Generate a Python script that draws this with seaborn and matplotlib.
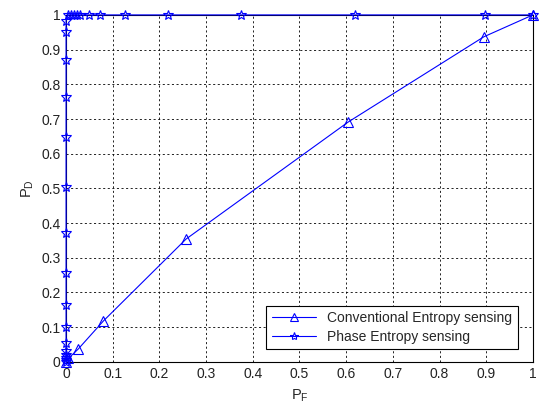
import numpy as np
import pandas as pd
import seaborn as sns
import matplotlib.pyplot as plt

# Conventional entropy sensing (ROC)
conv_pf = [0.0, 0.005, 0.026, 0.08, 0.257, 0.604, 0.895, 1.0]
conv_pd = [0.0, 0.01, 0.037, 0.118, 0.354, 0.691, 0.937, 1.0]

# Phase entropy sensing (ROC)
phase_pf = [0.0, 0.0, 0.0, 0.0, 0.0, 0.0, 0.0, 0.0, 0.0, 0.0, 0.0, 0.0, 0.0, 0.0, 0.0, 0.0,
            0.004, 0.01, 0.017, 0.024, 0.03, 0.05, 0.073, 0.126, 0.218, 0.375, 0.619, 0.897, 1.0]
phase_pd = [0.0, 0.005, 0.01, 0.02, 0.03, 0.055, 0.1, 0.164, 0.256, 0.372, 0.504, 0.648, 0.764, 0.87, 0.95, 0.983,
            1.0, 1.0, 1.0, 1.0, 1.0, 1.0, 1.0, 1.0, 1.0, 1.0, 1.0, 1.0, 1.0]

ticks = np.round(np.arange(0, 1.01, 0.1), 1)
tick_labels = ['0', '0.1', '0.2', '0.3', '0.4', '0.5', '0.6', '0.7', '0.8', '0.9', '1']

sns.set_style("white")
plt.rcParams['font.family'] = ['Liberation Sans', 'DejaVu Sans']

fig = plt.figure(figsize=(5.46, 4.03), dpi=100)
ax = fig.add_axes([0.121, 0.102, 0.855, 0.861])

sns.lineplot(x=conv_pf, y=conv_pd, sort=False, estimator=None, ax=ax, color='blue',
             marker='^', markersize=7.5, markerfacecolor='none', markeredgecolor='blue',
             markeredgewidth=0.8, linewidth=0.8, label='Conventional Entropy sensing',
             clip_on=False, zorder=5)
sns.lineplot(x=phase_pf, y=phase_pd, sort=False, estimator=None, ax=ax, color='blue',
             marker='*', markersize=7, markerfacecolor='none', markeredgecolor='blue',
             markeredgewidth=0.8, linewidth=0.8, label='Phase Entropy sensing',
             clip_on=False, zorder=5)

ax.set_xlim(0, 1)
ax.set_ylim(0, 1)
ax.set_xticks(ticks)
ax.set_yticks(ticks)
ax.set_xticklabels(tick_labels, fontsize=10)
ax.set_yticklabels(tick_labels, fontsize=10)
ax.tick_params(direction='in', length=4, width=0.6, colors='black', pad=4)
ax.tick_params(labelcolor='#222222')
ax.grid(True, color='black', linestyle=(0, (2.5, 3)), linewidth=0.6)
for s in ax.spines.values():
    s.set_color('black')
    s.set_linewidth(0.8)

ax.set_xlabel('P$_\\mathregular{F}$', fontsize=10.5)
ax.set_ylabel('P$_\\mathregular{D}$', fontsize=10.5)

leg = ax.legend(loc='lower right', bbox_to_anchor=(0.968, 0.037), borderaxespad=0,
                fontsize=10, frameon=True, fancybox=False, edgecolor='black', framealpha=1,
                handlelength=3.2, borderpad=0.4, labelspacing=0.3, markerscale=0.85)
leg.get_frame().set_linewidth(0.8)

fig.savefig('out.png', dpi=100)
